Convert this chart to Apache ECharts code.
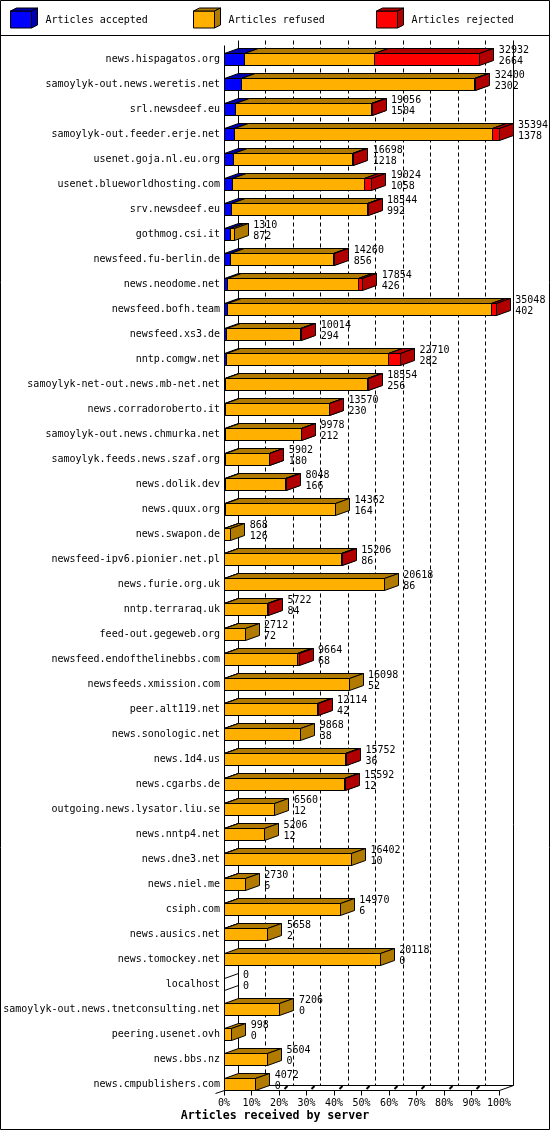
<!DOCTYPE html>
<html>
<head>
<meta charset="utf-8">
<script src="https://cdn.jsdelivr.net/npm/echarts@6/dist/echarts.min.js"></script>
<style>
  html, body { margin: 0; padding: 0; background: #fff; }
  #chart { width: 550px; height: 1130px; }
</style>
</head>
<body>
<div id="chart"></div>
<script>
// servers, top to bottom
var categories = [
  'news.hispagatos.org', 'samoylyk-out.news.weretis.net', 'srl.newsdeef.eu',
  'samoylyk-out.feeder.erje.net', 'usenet.goja.nl.eu.org', 'usenet.blueworldhosting.com',
  'srv.newsdeef.eu', 'gothmog.csi.it', 'newsfeed.fu-berlin.de', 'news.neodome.net',
  'newsfeed.bofh.team', 'newsfeed.xs3.de', 'nntp.comgw.net', 'samoylyk-net-out.news.mb-net.net',
  'news.corradoroberto.it', 'samoylyk-out.news.chmurka.net', 'samoylyk.feeds.news.szaf.org',
  'news.dolik.dev', 'news.quux.org', 'news.swapon.de', 'newsfeed-ipv6.pionier.net.pl',
  'news.furie.org.uk', 'nntp.terraraq.uk', 'feed-out.gegeweb.org', 'newsfeed.endofthelinebbs.com',
  'newsfeeds.xmission.com', 'peer.alt119.net', 'news.sonologic.net', 'news.1d4.us',
  'news.cgarbs.de', 'outgoing.news.lysator.liu.se', 'news.nntp4.net', 'news.dne3.net',
  'news.niel.me', 'csiph.com', 'news.ausics.net', 'news.tomockey.net', 'localhost',
  'samoylyk-out.news.tnetconsulting.net', 'peering.usenet.ovh', 'news.bbs.nz', 'news.cmpublishers.com'
];
var totalArticles = [
  32932, 32400, 19056, 35394, 16698, 19024, 18544, 1310, 14260, 17854,
  35048, 10014, 22710, 18554, 13570, 9978, 5902, 8048, 14362, 868,
  15206, 20618, 5722, 2712, 9664, 16098, 12114, 9868, 15752, 15592,
  6560, 5206, 16402, 2730, 14970, 5658, 20118, 0, 7206, 998, 5604, 4072
];
var acceptedArticles = [
  2664, 2302, 1504, 1378, 1218, 1058, 992, 872, 856, 426,
  402, 294, 282, 256, 230, 212, 180, 166, 164, 126,
  86, 86, 84, 72, 68, 52, 42, 38, 36, 12,
  12, 12, 10, 6, 6, 2, 0, 0, 0, 0, 0, 0
];
var refusedArticles = [
  16700, 29900, 17502, 33236, 15380, 17016, 17432, 438, 13284, 16848,
  33996, 9570, 20928, 18178, 13290, 9706, 5622, 7782, 14198, 742,
  15020, 20532, 5578, 2640, 9446, 16046, 11952, 9830, 15566, 15460,
  6548, 5194, 16392, 2724, 14964, 5656, 20118, 0, 7206, 998, 5604, 4072
];
var rejectedArticles = [
  13568, 198, 50, 780, 100, 950, 120, 0, 120, 580,
  650, 150, 1500, 120, 50, 60, 100, 100, 0, 0,
  100, 0, 60, 0, 150, 0, 120, 0, 150, 120,
  0, 0, 0, 0, 0, 0, 0, 0, 0, 0, 0, 0
];
var tickLabels = ['0%', '10%', '20%', '30%', '40%', '50%', '60%', '70%', '80%', '90%', '100%'];

var FONT = 'DejaVu Sans Mono';
var DX = 14, DY = 5;       // depth of the 3d effect
var HALF = 6;              // half height of a bar's front face
var colors = [
  { front: '#0000ff', dark: '#0000b0' },
  { front: '#ffb000', dark: '#b07b00' },
  { front: '#ff0000', dark: '#b00000' }
];

var maxTotal = Math.max.apply(null, totalArticles);
function pct(v) { return v / maxTotal * 100; }
function px(v) { return Math.floor(v) + 0.5; }

var barData = categories.map(function (name, i) {
  return [i, acceptedArticles[i], refusedArticles[i], rejectedArticles[i], totalArticles[i]];
});

function line(x1, y1, x2, y2, dash, w) {
  return {
    type: 'line',
    shape: { x1: x1, y1: y1, x2: x2, y2: y2 },
    style: { stroke: '#000', lineWidth: w || 1, lineDash: dash || null }
  };
}
function poly(points, fill) {
  return {
    type: 'polygon',
    shape: { points: points },
    style: { fill: fill, stroke: '#000', lineWidth: 1 }
  };
}
function box(xa, xb, yt, yb, c) {
  return [
    poly([[xa, yt], [xb, yt], [xb, yb], [xa, yb]], c.front),
    poly([[xa, yt], [xa + DX, yt - DY], [xb + DX, yt - DY], [xb, yt]], c.dark),
    poly([[xb, yt], [xb + DX, yt - DY], [xb + DX, yb - DY], [xb, yb]], c.dark)
  ];
}

// back wall, grid and front axis
function renderFrame(params, api) {
  var last = categories.length - 1;
  var first = api.coord([0, 0]);
  var bottom = api.coord([0, last]);
  var yFrontBottom = px(bottom[1] + HALF);
  var yBackBottom = yFrontBottom - DY;
  var yBackTop = px(first[1] - 19.5);
  var yFrontTop = yBackTop + DY;
  var x0 = px(api.coord([0, 0])[0]);
  var x100 = px(api.coord([100, 0])[0]);
  var els = [];
  for (var p = 10; p < 100; p += 10) {
    var xb = px(api.coord([p, 0])[0]) + DX;
    els.push(line(xb, yBackTop, xb, yBackBottom, [4, 3]));
  }
  els.push(line(x0 + DX, yBackTop, x0 + DX, yBackBottom));
  els.push(line(x100 + DX, yBackTop, x100 + DX, yBackBottom));
  els.push(line(x0 + DX, yBackBottom, x100 + DX, yBackBottom));
  els.push(line(x0, yFrontTop, x0, yFrontBottom));
  els.push(line(x0, yFrontBottom, x100, yFrontBottom));
  els.push(line(x0 - 9, yFrontBottom + 3, x0, yFrontBottom));
  els.push(line(x100, yFrontBottom, x100 + DX, yBackBottom));
  for (var q = 0; q <= 100; q += 10) {
    var xf = px(api.coord([q, 0])[0]);
    els.push(line(xf, yFrontBottom, xf, yFrontBottom + 5));
    if (q >= 20 && q <= 90) {
      els.push(line(xf + 5, yFrontBottom - 1.5, xf + 8, yBackBottom + 0.5, null, 2));
    }
  }
  return { type: 'group', children: els };
}

function renderBar(params, api) {
  var i = api.value(0);
  var parts = [api.value(1), api.value(2), api.value(3)];
  var total = api.value(4);
  var c = api.coord([0, i]);
  var yt = px(c[1] - HALF), yb = px(c[1] + HALF);
  var els = [];
  var cum = 0;
  var xStart = px(c[0]);
  if (total === 0) {
    els.push(poly([[xStart, yt], [xStart + DX, yt - DY], [xStart + DX, yb - DY], [xStart, yb]], 'rgba(0,0,0,0)'));
  }
  for (var k = 0; k < 3; k++) {
    if (parts[k] <= 0) continue;
    var xa = px(api.coord([pct(cum), i])[0]);
    cum += parts[k];
    var xb = px(api.coord([pct(cum), i])[0]);
    els = els.concat(box(xa, xb, yt, yb, colors[k]));
  }
  var xEnd = api.coord([pct(total), i])[0] + 19;
  var font = '10px "' + FONT + '"';
  els.push({ type: 'text', x: xEnd, y: c[1] - 9,
    style: { text: String(total), font: font, fill: '#000', verticalAlign: 'middle', align: 'left' } });
  els.push({ type: 'text', x: xEnd, y: c[1] + 2,
    style: { text: String(api.value(1)), font: font, fill: '#000', verticalAlign: 'middle', align: 'left' } });
  return { type: 'group', children: els };
}

function legendItem(x, label, c) {
  var y0 = 11, w = 21, h = 17, dx = 6, dy = 3;
  return [
    { type: 'polygon', shape: { points: [[x, y0], [x + w, y0], [x + w, y0 + h], [x, y0 + h]] },
      style: { fill: c.front, stroke: '#000', lineWidth: 1 } },
    { type: 'polygon', shape: { points: [[x, y0], [x + dx, y0 - dy], [x + w + dx, y0 - dy], [x + w, y0]] },
      style: { fill: c.dark, stroke: '#000', lineWidth: 1 } },
    { type: 'polygon', shape: { points: [[x + w, y0], [x + w + dx, y0 - dy], [x + w + dx, y0 + h - dy], [x + w, y0 + h]] },
      style: { fill: c.dark, stroke: '#000', lineWidth: 1 } },
    { type: 'text', x: x + 35, y: 20,
      style: { text: label, font: '10px "' + FONT + '"', fill: '#000', verticalAlign: 'middle' } }
  ];
}

var graphics = [
  { type: 'rect', shape: { x: 0.5, y: 0.5, width: 549, height: 1129 },
    style: { fill: null, stroke: '#000', lineWidth: 1 }, z: 10 },
  { type: 'line', shape: { x1: 0, y1: 35.5, x2: 550, y2: 35.5 },
    style: { stroke: '#000', lineWidth: 1 } }
].concat(legendItem(10.5, 'Articles accepted', colors[0]))
 .concat(legendItem(193.5, 'Articles refused', colors[1]))
 .concat(legendItem(376.5, 'Articles rejected', colors[2]));

var chart = echarts.init(document.getElementById('chart'), null, { renderer: 'canvas' });
chart.setOption({
  animation: false,
  backgroundColor: '#fff',
  textStyle: { fontFamily: FONT },
  title: {
    text: 'Articles received by server',
    left: 'center',
    top: 1110,
    padding: 0,
    textStyle: { fontFamily: FONT, fontSize: 11.6, fontWeight: 'bold', color: '#000' }
  },
  grid: { left: 224, right: 51, top: 47, height: 1050 },
  xAxis: {
    type: 'value',
    min: 0,
    max: 100,
    interval: 10,
    axisLine: { show: false },
    axisTick: { show: false },
    splitLine: { show: false },
    axisLabel: {
      margin: 1,
      fontFamily: FONT,
      fontSize: 10,
      color: '#000',
      formatter: function (v) { return tickLabels[Math.round(v / 10)]; }
    }
  },
  yAxis: {
    type: 'category',
    inverse: true,
    data: categories,
    axisLine: { show: false },
    axisTick: { show: false },
    axisLabel: { margin: 4, fontFamily: FONT, fontSize: 10, color: '#000' }
  },
  graphic: graphics,
  series: [
    { type: 'custom', name: 'frame', data: [[0]], renderItem: renderFrame, clip: false, z: 1, silent: true },
    { type: 'custom', name: 'articles', data: barData, renderItem: renderBar, clip: false, z: 2,
      encode: { x: [1, 2, 3], y: 0 } }
  ]
});
</script>
</body>
</html>
